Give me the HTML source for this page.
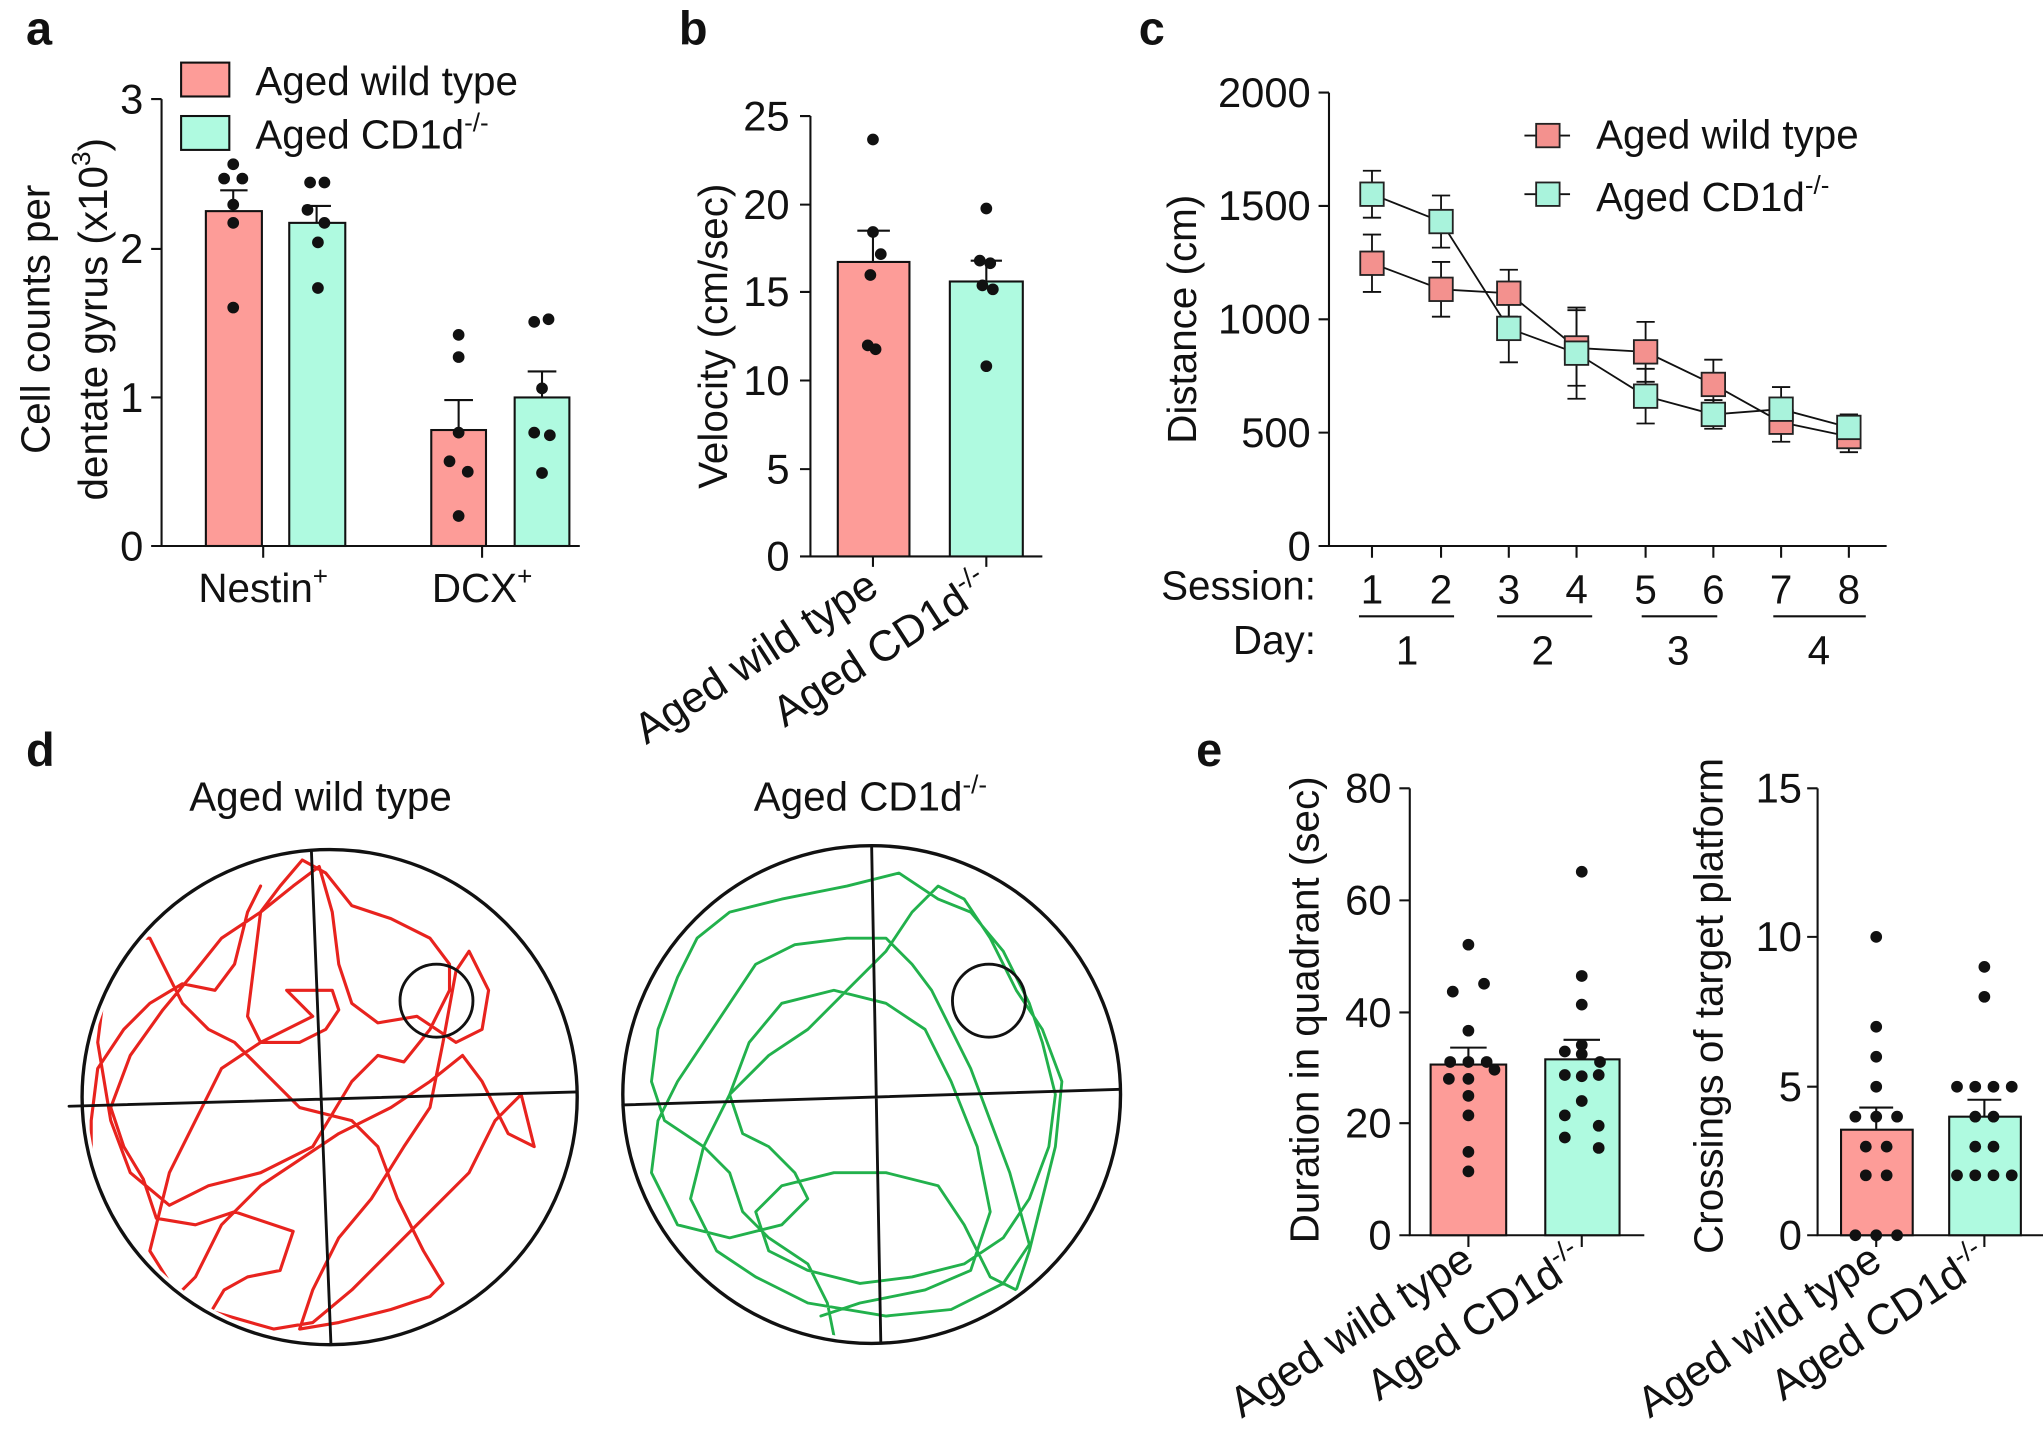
<!DOCTYPE html>
<html><head><style>
html,body{margin:0;padding:0;background:#fff;}
svg{display:block;}
text{font-family:"Liberation Sans",Arial,sans-serif;fill:#111;}
</style></head><body>
<svg width="2043" height="1434" viewBox="0 0 1568 1100.5" xmlns="http://www.w3.org/2000/svg">
<defs>
<clipPath id="cl"><circle cx="253" cy="842" r="186"/></clipPath>
<clipPath id="cr"><circle cx="669" cy="840" r="187"/></clipPath>
</defs>
<g stroke="#111" stroke-width="1.6" fill="none">
<path d="M124,76V419H445"/>
<path d="M116,76H124M116,191H124M116,305H124M116,419H124M202,419V428M370,419V428"/>
<path d="M622,89V427H800"/>
<path d="M614,89H622M614,157H622M614,224H622M614,292H622M614,360H622M614,427H622M670,427V435M757,427V435"/>
<path d="M1020,71V419H1448"/>
<path d="M1012,71H1020M1012,158H1020M1012,245H1020M1012,332H1020M1012,419H1020"/>
<path d="M1053,419V428M1106,419V428M1158,419V428M1210,419V428M1263,419V428M1315,419V428M1367,419V428M1419,419V428"/>
<path d="M1043,473H1116M1149,473H1222M1260,473H1318M1361,473H1432"/>
<path d="M1082,605V948H1262"/>
<path d="M1074,605H1082M1074,691H1082M1074,777H1082M1074,862H1082M1074,948H1082M1127,948V957M1214,948V957"/>
<path d="M1395,605V948H1568"/>
<path d="M1387,605H1395M1387,719H1395M1387,834H1395M1387,948H1395M1440,948V957M1523,948V957"/>
</g>
<g font-weight="bold" font-size="36">
<text x="20" y="34">a</text><text x="521" y="34">b</text><text x="874" y="34">c</text>
<text x="20" y="588">d</text><text x="918" y="588">e</text>
</g>
<g font-size="32" text-anchor="end">
<text x="110" y="87">3</text><text x="110" y="202">2</text><text x="110" y="316">1</text><text x="110" y="430">0</text>
<text x="606" y="100">25</text><text x="606" y="168">20</text><text x="606" y="235">15</text><text x="606" y="303">10</text><text x="606" y="371">5</text><text x="606" y="438">0</text>
<text x="1006" y="82">2000</text><text x="1006" y="169">1500</text><text x="1006" y="256">1000</text><text x="1006" y="343">500</text><text x="1006" y="430">0</text>
<text x="1068" y="616">80</text><text x="1068" y="702">60</text><text x="1068" y="788">40</text><text x="1068" y="873">20</text><text x="1068" y="959">0</text>
<text x="1383" y="616">15</text><text x="1383" y="730">10</text><text x="1383" y="845">5</text><text x="1383" y="959">0</text>
</g>
<g stroke="#111" stroke-width="1.6">
<rect x="158" y="162" width="43" height="257" fill="#fd9c98"/>
<rect x="222" y="171" width="43" height="248" fill="#affae0"/>
<rect x="331" y="330" width="42" height="89" fill="#fd9c98"/>
<rect x="395" y="305" width="42" height="114" fill="#affae0"/>
<path d="M179,162V146M169,146H190M243,171V158M233,158H254M352,330V307M341,307H363M416,305V285M405,285H427" fill="none"/>
<rect x="139" y="48" width="37" height="26" fill="#fd9c98"/>
<rect x="139" y="89" width="37" height="26" fill="#affae0"/>
<rect x="643" y="201" width="55" height="226" fill="#fd9c98"/>
<rect x="729" y="216" width="56" height="211" fill="#affae0"/>
<path d="M670,201V177M658,177H683M757,216V200M745,200H769" fill="none"/>
<rect x="1098" y="817" width="58" height="131" fill="#fd9c98"/>
<rect x="1186" y="813" width="57" height="135" fill="#affae0"/>
<path d="M1127,817V804M1113,804H1141M1214,813V798M1200,798H1228" fill="none"/>
<rect x="1413" y="867" width="55" height="81" fill="#fd9c98"/>
<rect x="1496" y="857" width="55" height="91" fill="#affae0"/>
<path d="M1440,867V850M1427,850H1453M1523,857V844M1510,844H1536" fill="none"/>
</g>
<g font-size="31">
<text x="196" y="73">Aged wild type</text>
<text x="196" y="114">Aged CD1d<tspan font-size="20" dy="-13">-/-</tspan></text>
<text x="202" y="462" text-anchor="middle">Nestin<tspan font-size="20" dy="-13">+</tspan></text>
<text x="370" y="462" text-anchor="middle">DCX<tspan font-size="20" dy="-13">+</tspan></text>
<text transform="translate(38,245) rotate(-90)" text-anchor="middle">Cell counts per</text>
<text transform="translate(82,245) rotate(-90)" text-anchor="middle">dentate gyrus (x10<tspan font-size="20" dy="-13">3</tspan><tspan dy="13">)</tspan></text>
<text transform="translate(558,258) rotate(-90)" text-anchor="middle">Velocity (cm/sec)</text>
<text font-size="33" transform="translate(676,455) rotate(-33)" text-anchor="end">Aged wild type</text>
<text font-size="33" transform="translate(762,455) rotate(-33)" text-anchor="end">Aged CD1d<tspan font-size="21" dy="-13">-/-</tspan></text>
<text transform="translate(918,245) rotate(-90)" text-anchor="middle">Distance (cm)</text>
<text x="1225" y="114">Aged wild type</text>
<text x="1225" y="162">Aged CD1d<tspan font-size="20" dy="-13">-/-</tspan></text>
<text x="1010" y="460" text-anchor="end">Session:</text>
<text x="1010" y="502" text-anchor="end">Day:</text>
<g text-anchor="middle"><text x="1053" y="463">1</text><text x="1106" y="463">2</text><text x="1158" y="463">3</text><text x="1210" y="463">4</text><text x="1263" y="463">5</text><text x="1315" y="463">6</text><text x="1367" y="463">7</text><text x="1419" y="463">8</text>
<text x="1080" y="510">1</text><text x="1184" y="510">2</text><text x="1288" y="510">3</text><text x="1396" y="510">4</text>
<text x="246" y="622">Aged wild type</text><text x="668" y="622">Aged CD1d<tspan font-size="20" dy="-13">-/-</tspan></text>
<text transform="translate(1012,775) rotate(-90)">Duration in quadrant (sec)</text>
<text transform="translate(1322,772) rotate(-90)">Crossings of target platform</text>
</g>
<text font-size="33" transform="translate(1133,972) rotate(-33)" text-anchor="end">Aged wild type</text>
<text font-size="33" transform="translate(1218,972) rotate(-33)" text-anchor="end">Aged CD1d<tspan font-size="21" dy="-13">-/-</tspan></text>
<text font-size="33" transform="translate(1446,972) rotate(-33)" text-anchor="end">Aged wild type</text>
<text font-size="33" transform="translate(1528,972) rotate(-33)" text-anchor="end">Aged CD1d<tspan font-size="21" dy="-13">-/-</tspan></text>
</g>
<g fill="#111">
<circle cx="179" cy="126" r="4.5"/><circle cx="172" cy="137" r="4.5"/><circle cx="186" cy="137" r="4.5"/><circle cx="179" cy="157" r="4.5"/><circle cx="179" cy="171" r="4.5"/><circle cx="179" cy="236" r="4.5"/>
<circle cx="238" cy="140" r="4.5"/><circle cx="249" cy="140" r="4.5"/><circle cx="236" cy="161" r="4.5"/><circle cx="249" cy="171" r="4.5"/><circle cx="244" cy="186" r="4.5"/><circle cx="244" cy="221" r="4.5"/>
<circle cx="352" cy="257" r="4.5"/><circle cx="352" cy="274" r="4.5"/><circle cx="352" cy="332" r="4.5"/><circle cx="345" cy="354" r="4.5"/><circle cx="359" cy="362" r="4.5"/><circle cx="352" cy="396" r="4.5"/>
<circle cx="410" cy="247" r="4.5"/><circle cx="421" cy="245" r="4.5"/><circle cx="416" cy="298" r="4.5"/><circle cx="410" cy="332" r="4.5"/><circle cx="422" cy="334" r="4.5"/><circle cx="416" cy="363" r="4.5"/>
<circle cx="670" cy="107" r="4.5"/><circle cx="670" cy="178" r="4.5"/><circle cx="676" cy="195" r="4.5"/><circle cx="668" cy="211" r="4.5"/><circle cx="666" cy="265" r="4.5"/><circle cx="672" cy="268" r="4.5"/>
<circle cx="757" cy="160" r="4.5"/><circle cx="752" cy="200" r="4.5"/><circle cx="760" cy="202" r="4.5"/><circle cx="754" cy="219" r="4.5"/><circle cx="762" cy="222" r="4.5"/><circle cx="757" cy="281" r="4.5"/>
<circle cx="1127" cy="725" r="4.5"/><circle cx="1139" cy="755" r="4.5"/><circle cx="1115" cy="761" r="4.5"/><circle cx="1127" cy="791" r="4.5"/><circle cx="1113" cy="815" r="4.5"/><circle cx="1127" cy="815" r="4.5"/><circle cx="1141" cy="815" r="4.5"/><circle cx="1147" cy="821" r="4.5"/><circle cx="1112" cy="828" r="4.5"/><circle cx="1127" cy="828" r="4.5"/><circle cx="1127" cy="841" r="4.5"/><circle cx="1127" cy="856" r="4.5"/><circle cx="1127" cy="884" r="4.5"/><circle cx="1127" cy="899" r="4.5"/>
<circle cx="1214" cy="669" r="4.5"/><circle cx="1214" cy="749" r="4.5"/><circle cx="1214" cy="771" r="4.5"/><circle cx="1214" cy="802" r="4.5"/><circle cx="1201" cy="807" r="4.5"/><circle cx="1214" cy="809" r="4.5"/><circle cx="1228" cy="815" r="4.5"/><circle cx="1201" cy="825" r="4.5"/><circle cx="1227" cy="825" r="4.5"/><circle cx="1214" cy="826" r="4.5"/><circle cx="1214" cy="845" r="4.5"/><circle cx="1201" cy="856" r="4.5"/><circle cx="1227" cy="864" r="4.5"/><circle cx="1201" cy="873" r="4.5"/><circle cx="1227" cy="881" r="4.5"/>
<circle cx="1440" cy="719" r="4.5"/><circle cx="1440" cy="788" r="4.5"/><circle cx="1440" cy="811" r="4.5"/><circle cx="1440" cy="834" r="4.5"/><circle cx="1424" cy="857" r="4.5"/><circle cx="1440" cy="857" r="4.5"/><circle cx="1456" cy="857" r="4.5"/><circle cx="1432" cy="880" r="4.5"/><circle cx="1448" cy="880" r="4.5"/><circle cx="1432" cy="902" r="4.5"/><circle cx="1448" cy="902" r="4.5"/><circle cx="1424" cy="948" r="4.5"/><circle cx="1440" cy="948" r="4.5"/><circle cx="1456" cy="948" r="4.5"/>
<circle cx="1523" cy="742" r="4.5"/><circle cx="1523" cy="765" r="4.5"/><circle cx="1502" cy="834" r="4.5"/><circle cx="1516" cy="834" r="4.5"/><circle cx="1530" cy="834" r="4.5"/><circle cx="1544" cy="834" r="4.5"/><circle cx="1516" cy="857" r="4.5"/><circle cx="1530" cy="857" r="4.5"/><circle cx="1516" cy="880" r="4.5"/><circle cx="1530" cy="880" r="4.5"/><circle cx="1502" cy="902" r="4.5"/><circle cx="1516" cy="902" r="4.5"/><circle cx="1530" cy="902" r="4.5"/><circle cx="1544" cy="902" r="4.5"/>
</g>
<!-- panel c -->
<g stroke="#111" stroke-width="1.4" fill="none">
<polyline points="1053,202 1106,222 1158,225 1210,267 1263,270 1315,295 1367,324 1419,335"/>
<polyline points="1053,149 1106,170 1158,252 1210,271 1263,304 1315,318 1367,314 1419,328"/>
<path d="M1053,180V224M1046,180H1060M1046,224H1060 M1106,201V243M1099,201H1113M1099,243H1113 M1158,207V243M1151,207H1165M1151,243H1165 M1210,238V296M1203,238H1217M1203,296H1217 M1263,247V293M1256,247H1270M1256,293H1270 M1315,276V314M1308,276H1322M1308,314H1322 M1367,309V339M1360,309H1374M1360,339H1374 M1419,323V347M1412,323H1426M1412,347H1426"/>
<path d="M1053,131V167M1046,131H1060M1046,167H1060 M1106,150V190M1099,150H1113M1099,190H1113 M1158,226V278M1151,226H1165M1151,278H1165 M1210,236V306M1203,236H1217M1203,306H1217 M1263,283V325M1256,283H1270M1256,325H1270 M1315,307V329M1308,307H1322M1308,329H1322 M1367,297V330M1360,297H1374M1360,330H1374 M1419,318V339M1412,318H1426M1412,339H1426"/>
<path d="M1170,104H1205M1170,149H1205"/>
</g>
<g stroke="#222" stroke-width="1.4">
<g fill="#f3918e">
<rect x="1044" y="193" width="18" height="18"/><rect x="1097" y="213" width="18" height="18"/><rect x="1149" y="216" width="18" height="18"/><rect x="1201" y="258" width="18" height="18"/><rect x="1254" y="261" width="18" height="18"/><rect x="1306" y="286" width="18" height="18"/><rect x="1358" y="315" width="18" height="18"/><rect x="1410" y="326" width="18" height="18"/>
<rect x="1179" y="95" width="18" height="18"/>
</g>
<g fill="#a9f3dc">
<rect x="1044" y="140" width="18" height="18"/><rect x="1097" y="161" width="18" height="18"/><rect x="1149" y="243" width="18" height="18"/><rect x="1201" y="262" width="18" height="18"/><rect x="1254" y="295" width="18" height="18"/><rect x="1306" y="309" width="18" height="18"/><rect x="1358" y="305" width="18" height="18"/><rect x="1410" y="319" width="18" height="18"/>
<rect x="1179" y="140" width="18" height="18"/>
</g>
</g>
<!-- panel d -->
<g fill="none" stroke-linejoin="round" stroke-linecap="round">
<polyline clip-path="url(#cl)" stroke="#e8231e" stroke-width="2.4" points="160,1010 172,990 190,980 215,975 225,945 180,930 150,940 120,935 110,905 95,880 85,850 100,810 125,775 150,745 170,720 200,700 225,680 245,665 255,700 260,740 270,770 290,785 320,780 350,800 370,790 375,760 360,730 350,745 340,800 330,850 310,880 285,920 260,950 240,990 230,1020 260,1015 300,1005 330,995 340,985 325,960 305,920 290,880 270,860 230,850 200,820 180,800 160,790 140,770 115,720 90,720 80,760 75,800 85,860 100,900 130,925 160,910 200,900 240,880 270,830 290,810 310,815 330,790 345,760 345,740 330,720 300,705 270,695 250,670 232,660 215,680 200,700 195,740 190,780 200,800 230,800 250,790 260,775 255,760 220,760 240,780 200,800 170,820 150,860 130,900 115,960 140,1000 175,1010 210,1020 240,1015 270,990 300,960 330,930 360,900 380,860 400,840 410,880 390,870 370,830 355,810 330,830 300,850 260,870 230,890 200,910 170,940 150,980 130,1000 100,990 80,960 70,920 70,860 75,820 95,790 115,770 140,755 165,760 180,740 190,700 200,680"/>
<polyline clip-path="url(#cr)" stroke="#22b14c" stroke-width="2.2" points="640,1025 635,1000 620,970 590,950 570,930 560,900 540,880 510,860 500,830 505,790 520,750 535,720 560,700 600,690 650,680 690,670 720,690 745,700 770,730 790,770 800,800 810,840 805,880 790,920 770,950 740,970 700,980 660,985 620,975 590,960 580,930 600,910 640,900 680,900 720,910 740,940 760,980 780,990 790,960 800,920 810,880 815,830 800,790 780,760 760,720 740,690 720,680 700,700 680,730 650,760 620,790 590,810 560,840 540,880 530,920 550,960 580,980 620,1000 680,1010 730,1005 770,985 790,955 775,900 760,860 745,820 730,790 715,760 700,740 680,720 650,720 610,725 580,740 560,770 540,800 520,830 505,860 500,900 520,940 560,950 600,940 620,920 610,900 590,880 570,870 560,840 575,800 600,770 640,760 680,770 710,790 730,830 750,880 760,930 745,975 710,990 660,1000 630,1010"/>
<g stroke="#111">
<circle cx="253" cy="842" r="190" stroke-width="2.6"/>
<path d="M239,653L254,1032M53,849L443,838" stroke-width="2.2"/>
<circle cx="335" cy="768" r="28" stroke-width="2.2"/>
<circle cx="669" cy="840" r="191" stroke-width="2.6"/>
<path d="M669,650L676,1030M478,848L860,836" stroke-width="2.2"/>
<circle cx="759" cy="768" r="28" stroke-width="2.2"/>
</g>
</g>
</svg>
</body></html>
